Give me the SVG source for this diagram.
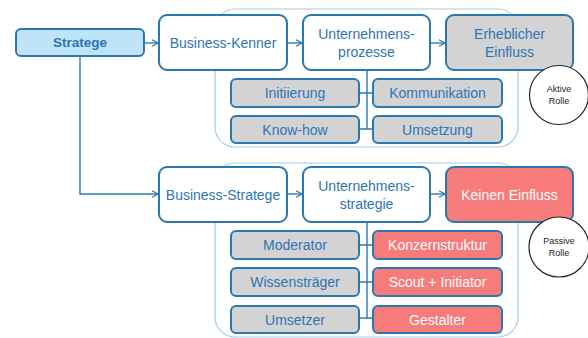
<svg xmlns="http://www.w3.org/2000/svg" width="588" height="338" viewBox="0 0 588 338">
  <defs>
    <marker id="arr" markerWidth="8" markerHeight="8" refX="7" refY="4" orient="auto" markerUnits="userSpaceOnUse">
      <path d="M1,0.8 L7,4 L1,7.2" fill="none" stroke="#2b7bb3" stroke-width="1.2"/>
    </marker>
  </defs>
  <style>
    .frame { fill: none; stroke: #a8cce6; stroke-width: 1.2; }
    .box { fill: #ffffff; stroke: #2a78b0; stroke-width: 2; }
    .start { fill: #bfe4f8; stroke: #2a78b0; stroke-width: 2; }
    .grey { fill: #d3d3d3; stroke: #2a78b0; stroke-width: 2; }
    .red { fill: #f87b7b; stroke: #2a78b0; stroke-width: 2; }
    .role { fill: #ffffff; stroke: #222222; stroke-width: 1.2; }
    .link { fill: none; stroke: #2b7bb3; stroke-width: 1.4; }
    text { font-family: "Liberation Sans", Arial, sans-serif; text-anchor: middle; dominant-baseline: central; }
    .t { font-size: 14px; fill: #2e75b6; }
    .tw { font-size: 14px; fill: #ffffff; }
    .tb { font-size: 13.5px; font-weight: bold; fill: #2e75b6; }
    .ts { font-size: 9px; fill: #222222; }
  </style>

  <!-- group frames -->
  <rect class="frame" x="215" y="9" width="303" height="138" rx="20"/>
  <rect class="frame" x="215" y="163" width="303" height="174" rx="20"/>

  <!-- connectors -->
  <g id="connectors">
    <path class="link" d="M144,43 H158" marker-end="url(#arr)"/>
    <path class="link" d="M80,56 V194 H158" marker-end="url(#arr)"/>
    <path class="link" d="M287,43 H302" marker-end="url(#arr)"/>
    <path class="link" d="M430,43 H445" marker-end="url(#arr)"/>
    <path class="link" d="M287,194 H302" marker-end="url(#arr)"/>
    <path class="link" d="M430,194 H445" marker-end="url(#arr)"/>
    <path class="link" d="M367,70 V129 M359,93 H373 M359,129 H373"/>
    <path class="link" d="M367,222 V318 M359,245 H373 M359,282 H373 M359,318 H373"/>
  </g>

  <g id="strategie">
    <rect class="start" x="16" y="29" width="128" height="27" rx="5"/>
    <text class="tb" x="80" y="42.5">Stratege</text>
  </g>

  <!-- upper row -->
  <g id="business-kenner">
    <rect class="box" x="159" y="15" width="128" height="55" rx="8"/>
    <text class="t" x="223" y="42.5">Business-Kenner</text>
  </g>
  <g id="unternehmensprozesse">
    <rect class="box" x="303" y="15" width="127" height="55" rx="8"/>
    <text class="t" x="366.5" y="33.5">Unternehmens-</text>
    <text class="t" x="366.5" y="52">prozesse</text>
  </g>
  <g id="erheblicher-einfluss">
    <rect class="grey" x="446" y="15" width="127" height="55" rx="8"/>
    <text class="t" x="509.5" y="33.5">Erheblicher</text>
    <text class="t" x="509.5" y="52">Einfluss</text>
  </g>
  <g id="initiierung">
    <rect class="grey" x="231" y="79" width="128" height="28" rx="5"/>
    <text class="t" x="295" y="93">Initiierung</text>
  </g>
  <g id="kommunikation">
    <rect class="grey" x="373" y="79" width="129" height="28" rx="5"/>
    <text class="t" x="437.5" y="93">Kommunikation</text>
  </g>
  <g id="know-how">
    <rect class="grey" x="231" y="116" width="128" height="27" rx="5"/>
    <text class="t" x="295" y="129.5">Know-how</text>
  </g>
  <g id="umsetzung">
    <rect class="grey" x="373" y="116" width="129" height="27" rx="5"/>
    <text class="t" x="437.5" y="129.5">Umsetzung</text>
  </g>
  <g id="aktive-rolle">
    <circle class="role" cx="559" cy="95" r="29.5"/>
    <text class="ts" x="559" y="89">Aktive</text>
    <text class="ts" x="559" y="101">Rolle</text>
  </g>

  <!-- lower row -->
  <g id="business-stratege">
    <rect class="box" x="159" y="167" width="128" height="55" rx="8"/>
    <text class="t" x="223" y="194.5">Business-Stratege</text>
  </g>
  <g id="unternehmensstrategie">
    <rect class="box" x="303" y="167" width="127" height="55" rx="8"/>
    <text class="t" x="366.5" y="185.5">Unternehmens-</text>
    <text class="t" x="366.5" y="204">strategie</text>
  </g>
  <g id="keinen-einfluss">
    <rect class="red" x="446" y="167" width="127" height="55" rx="8"/>
    <text class="tw" x="509.5" y="194.5">Keinen Einfluss</text>
  </g>
  <g id="moderator">
    <rect class="grey" x="231" y="231" width="128" height="28" rx="5"/>
    <text class="t" x="295" y="245">Moderator</text>
  </g>
  <g id="konzernstruktur">
    <rect class="red" x="373" y="231" width="129" height="28" rx="5"/>
    <text class="tw" x="437.5" y="245">Konzernstruktur</text>
  </g>
  <g id="wissenstraeger">
    <rect class="grey" x="231" y="268" width="128" height="28" rx="5"/>
    <text class="t" x="295" y="282">Wissensträger</text>
  </g>
  <g id="scout-initiator">
    <rect class="red" x="373" y="268" width="129" height="28" rx="5"/>
    <text class="tw" x="437.5" y="282">Scout + Initiator</text>
  </g>
  <g id="umsetzer">
    <rect class="grey" x="231" y="306" width="128" height="27" rx="5"/>
    <text class="t" x="295" y="319.5">Umsetzer</text>
  </g>
  <g id="gestalter">
    <rect class="red" x="373" y="306" width="129" height="27" rx="5"/>
    <text class="tw" x="437.5" y="319.5">Gestalter</text>
  </g>
  <g id="passive-rolle">
    <circle class="role" cx="559" cy="247" r="30"/>
    <text class="ts" x="559" y="241">Passive</text>
    <text class="ts" x="559" y="253">Rolle</text>
  </g>
</svg>
